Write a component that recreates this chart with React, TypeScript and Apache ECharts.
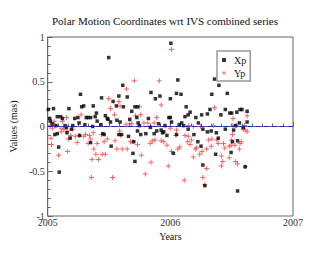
import React, { useEffect, useRef } from "react";
import * as echarts from "echarts";

const titleText = "Polar Motion Coordinates wrt IVS combined series";
const xTicks = [2005, 2006, 2007];
const yTicks = [-1, -0.5, 0, 0.5, 1];

const xpYears = [2005.005,2005.016,2005.021,2005.037,2005.047,2005.058,2005.068,2005.078,2005.078,2005.089,2005.094,2005.105,2005.12,2005.141,2005.152,2005.157,2005.173,2005.183,2005.193,2005.204,2005.22,2005.246,2005.256,2005.26,2005.267,2005.277,2005.293,2005.303,2005.314,2005.329,2005.35,2005.35,2005.366,2005.371,2005.387,2005.397,2005.403,2005.434,2005.439,2005.45,2005.46,2005.47,2005.486,2005.492,2005.497,2005.512,2005.517,2005.533,2005.56,2005.564,2005.58,2005.58,2005.59,2005.602,2005.612,2005.617,2005.648,2005.659,2005.669,2005.685,2005.695,2005.701,2005.711,2005.711,2005.727,2005.732,2005.732,2005.737,2005.748,2005.758,2005.8,2005.821,2005.837,2005.842,2005.868,2005.878,2005.889,2005.904,2005.915,2005.925,2005.936,2005.946,2005.956,2005.972,2005.988,2006.0,2006.0,2006.004,2006.01,2006.025,2006.05,2006.05,2006.061,2006.072,2006.087,2006.092,2006.108,2006.119,2006.129,2006.145,2006.145,2006.161,2006.192,2006.208,2006.224,2006.228,2006.25,2006.255,2006.265,2006.265,2006.281,2006.302,2006.302,2006.323,2006.333,2006.338,2006.36,2006.369,2006.375,2006.391,2006.396,2006.412,2006.448,2006.448,2006.464,2006.485,2006.495,2006.5,2006.506,2006.516,2006.532,2006.542,2006.548,2006.548,2006.563,2006.569,2006.584,2006.594,2006.61,2006.626,2006.626];
const xpValues = [0.19,0.09,0.06,0.03,0.20,-0.09,0.01,0.11,-0.08,-0.23,-0.51,0.11,0.09,0.01,-0.01,-0.07,0.20,-0.13,-0.03,0.01,0.09,0.10,0.04,-0.10,0.36,0.22,0.23,0.02,0.10,0.10,0.10,-0.18,0.00,0.23,0.11,0.15,0.06,0.02,0.32,-0.08,-0.09,0.12,0.09,0.08,0.77,0.05,-0.22,0.28,0.23,0.07,0.34,-0.09,0.05,-0.09,0.46,0.22,0.33,-0.11,0.08,0.17,-0.30,-0.17,0.22,-0.39,0.10,0.22,-0.05,0.04,0.01,-0.09,-0.08,0.09,-0.01,0.38,-0.08,0.31,-0.05,0.03,0.34,-0.04,-0.07,-0.06,0.01,-0.10,0.10,0.31,0.10,0.93,0.05,-0.30,0.37,-0.09,0.52,0.02,0.36,0.04,0.01,0.11,0.22,0.13,-0.03,0.16,-0.09,0.10,-0.17,0.04,-0.22,0.13,-0.03,-0.43,-0.66,0.14,-0.06,0.19,-0.05,0.36,0.53,-0.31,-0.07,-0.13,0.46,0.13,0.19,-0.03,0.37,0.15,-0.29,0.15,-0.17,-0.04,0.01,0.16,-0.16,-0.72,0.04,0.19,0.19,-0.01,-0.45,0.17,0.05];

const ypYears = [2005.021,2005.026,2005.031,2005.037,2005.052,2005.058,2005.089,2005.11,2005.11,2005.12,2005.131,2005.152,2005.157,2005.162,2005.167,2005.188,2005.204,2005.225,2005.24,2005.256,2005.272,2005.293,2005.308,2005.329,2005.34,2005.35,2005.356,2005.361,2005.371,2005.376,2005.392,2005.403,2005.413,2005.439,2005.444,2005.46,2005.47,2005.486,2005.497,2005.512,2005.528,2005.544,2005.549,2005.564,2005.58,2005.586,2005.59,2005.596,2005.607,2005.638,2005.643,2005.648,2005.669,2005.675,2005.685,2005.695,2005.706,2005.716,2005.732,2005.748,2005.758,2005.763,2005.784,2005.795,2005.816,2005.836,2005.842,2005.852,2005.868,2005.873,2005.889,2005.91,2005.925,2005.925,2005.946,2005.972,2005.983,2006.0,2006.009,2006.009,2006.046,2006.05,2006.061,2006.077,2006.113,2006.119,2006.14,2006.145,2006.15,2006.161,2006.171,2006.187,2006.187,2006.203,2006.213,2006.239,2006.245,2006.258,2006.265,2006.281,2006.296,2006.296,2006.312,2006.333,2006.338,2006.35,2006.36,2006.38,2006.39,2006.417,2006.417,2006.427,2006.433,2006.444,2006.48,2006.48,2006.495,2006.5,2006.506,2006.511,2006.511,2006.526,2006.532,2006.537,2006.547,2006.563,2006.568,2006.579,2006.594,2006.605,2006.61,2006.61,2006.626,2006.626];
const ypValues = [0.01,-0.13,-0.20,-0.02,0.06,0.01,-0.32,-0.02,-0.06,0.06,-0.03,0.10,-0.05,-0.28,-0.14,-0.10,-0.03,-0.11,-0.18,-0.10,0.13,-0.11,-0.09,-0.19,-0.10,-0.14,-0.57,-0.37,-0.07,-0.25,-0.31,-0.19,-0.37,-0.09,-0.31,-0.17,-0.31,-0.14,0.31,0.20,-0.57,0.13,-0.16,-0.25,0.28,-0.05,0.23,-0.10,-0.25,0.02,0.42,-0.25,0.03,-0.17,0.03,-0.17,0.51,0.12,-0.20,0.22,0.13,-0.32,0.04,-0.53,0.04,-0.19,-0.40,-0.16,0.04,-0.15,0.10,0.51,0.24,-0.16,-0.17,-0.21,-0.44,-0.02,0.86,-0.28,-0.10,-0.04,-0.25,-0.23,-0.60,-0.10,-0.17,-0.11,0.01,-0.20,-0.15,0.00,-0.34,-0.25,-0.24,-0.31,0.00,-0.28,-0.57,-0.65,-0.25,-0.47,-0.15,-0.22,-0.14,0.01,0.21,-0.15,-0.19,-0.33,-0.44,-0.39,-0.19,-0.24,-0.22,-0.35,-0.21,-0.15,-0.09,0.09,0.01,-0.21,-0.39,0.01,-0.42,-0.25,-0.19,-0.17,-0.03,0.01,-0.04,-0.45,0.12,-0.06];

const FONT = "'Liberation Serif', 'DejaVu Serif', serif";
const PLUS = "path://M2,0H3V2H5V3H3V5H2V3H0V2H2Z";

export default function App() {
  const ref = useRef<HTMLDivElement>(null);
  useEffect(() => {
    document.body.style.margin = "0";
    if (!ref.current) return;
    const chart = echarts.init(ref.current, null, { renderer: "svg" });
    const xp = xpYears.map((y, i) => [y, xpValues[i]]);
    const yp = ypYears.map((y, i) => [y, ypValues[i]]);
    chart.setOption({
      animation: false,
      backgroundColor: "#ffffff",
      title: {
        text: titleText,
        left: "center",
        top: 10,
        textStyle: { fontFamily: FONT, fontSize: 11, fontWeight: "normal", color: "#111" },
      },
      grid: {
        left: 38, right: 37, top: 37, bottom: 39,
        show: true, borderColor: "#666", borderWidth: 1, backgroundColor: "transparent",
      },
      legend: {
        orient: "vertical",
        left: 217,
        top: 51,
        padding: [4, 4, 3, 5],
        itemGap: 3,
        itemWidth: 4,
        itemHeight: 4,
        borderColor: "#999",
        borderWidth: 1.5,
        textStyle: { fontFamily: FONT, fontSize: 10, color: "#111", padding: [0, 0, 0, 3] },
        data: ["Xp", "Yp"],
      },
      xAxis: {
        type: "value",
        min: xTicks[0],
        max: xTicks[xTicks.length - 1],
        interval: 1,
        name: "Years",
        nameLocation: "middle",
        nameGap: 11,
        nameTextStyle: { fontFamily: FONT, fontSize: 10, color: "#111" },
        axisLine: { show: true, lineStyle: { color: "#666" } },
        axisTick: { show: true, inside: true, length: 5, lineStyle: { color: "#666" } },
        minorTick: { show: true, splitNumber: 12, length: 3, lineStyle: { color: "#666" } },
        splitLine: { show: false },
        axisLabel: { fontFamily: FONT, fontSize: 10, color: "#333", margin: 1, formatter: (v: number) => String(v) },
      },
      yAxis: {
        type: "value",
        min: yTicks[0],
        max: yTicks[yTicks.length - 1],
        interval: 0.5,
        name: "Values (mas)",
        nameLocation: "middle",
        nameGap: 20,
        nameTextStyle: { fontFamily: FONT, fontSize: 10, color: "#111" },
        axisLine: { show: true, lineStyle: { color: "#666" } },
        axisTick: { show: true, inside: true, length: 5, lineStyle: { color: "#666" } },
        minorTick: { show: true, splitNumber: 5, length: 3, lineStyle: { color: "#666" } },
        splitLine: { show: false },
        axisLabel: { fontFamily: FONT, fontSize: 10, color: "#333", margin: 3, formatter: (v: number) => String(v) },
      },
      series: [
        {
          name: "Yp",
          type: "scatter",
          data: yp,
          symbol: PLUS,
          symbolSize: 5,
          itemStyle: { color: "#ff3b3b" },
          z: 2,
          markLine: {
            silent: true,
            symbol: "none",
            label: { show: false },
            lineStyle: { color: "#2222cc", type: [5, 3], width: 1 },
            data: [{ yAxis: 0 }],
          },
        },
        {
          name: "Xp",
          type: "scatter",
          data: xp,
          symbol: "rect",
          symbolSize: 3.5,
          itemStyle: { color: "#000000" },
          z: 3,
        },
      ],
    });
    return () => chart.dispose();
  }, []);
  return <div ref={ref} style={{ width: 330, height: 255 }} />;
}
